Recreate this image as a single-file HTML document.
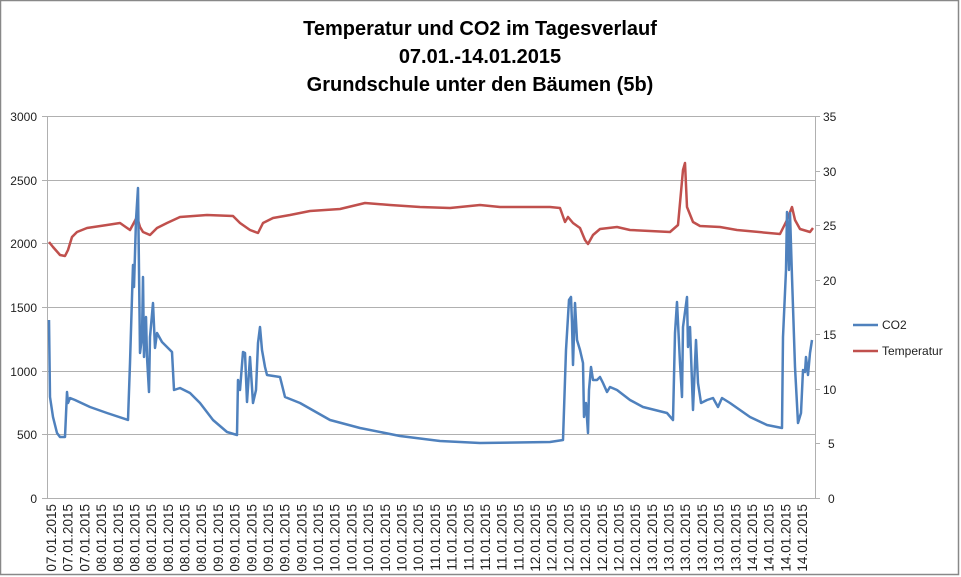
<!DOCTYPE html>
<html><head><meta charset="utf-8"><style>
body{margin:0;background:#fff}
svg{display:block;font-family:"Liberation Sans",Arial,sans-serif}
</style></head><body>
<svg width="961" height="577" viewBox="0 0 961 577">
<rect x="0.5" y="0.5" width="958" height="574" fill="#fff" stroke="#888" stroke-width="1.5"/>
<g font-weight="bold" font-size="20" text-anchor="middle" fill="#000">
<text x="480" y="35">Temperatur und CO2 im Tagesverlauf</text>
<text x="480" y="63">07.01.-14.01.2015</text>
<text x="480" y="91">Grundschule unter den Bäumen (5b)</text>
</g>
<g stroke="#b0b0b0" stroke-width="1">
<line x1="47" y1="116.5" x2="815" y2="116.5"/>
<line x1="47" y1="180.5" x2="815" y2="180.5"/>
<line x1="47" y1="243.5" x2="815" y2="243.5"/>
<line x1="47" y1="307.5" x2="815" y2="307.5"/>
<line x1="47" y1="371.5" x2="815" y2="371.5"/>
<line x1="47" y1="434.5" x2="815" y2="434.5"/>
<line x1="47" y1="498.5" x2="815" y2="498.5"/>
<line x1="47.5" y1="116" x2="47.5" y2="498"/>
<line x1="815.5" y1="116" x2="815.5" y2="498"/>
</g>
<g stroke="#b0b0b0">
<line x1="42" y1="116.5" x2="47" y2="116.5"/><line x1="42" y1="180.5" x2="47" y2="180.5"/><line x1="42" y1="243.5" x2="47" y2="243.5"/><line x1="42" y1="307.5" x2="47" y2="307.5"/><line x1="42" y1="371.5" x2="47" y2="371.5"/><line x1="42" y1="434.5" x2="47" y2="434.5"/><line x1="42" y1="498.5" x2="47" y2="498.5"/>
<line x1="815" y1="116.5" x2="820" y2="116.5"/><line x1="815" y1="171.5" x2="820" y2="171.5"/><line x1="815" y1="225.5" x2="820" y2="225.5"/><line x1="815" y1="280.5" x2="820" y2="280.5"/><line x1="815" y1="334.5" x2="820" y2="334.5"/><line x1="815" y1="389.5" x2="820" y2="389.5"/><line x1="815" y1="443.5" x2="820" y2="443.5"/><line x1="815" y1="498.5" x2="820" y2="498.5"/>
</g>
<g font-size="12" fill="#222" text-anchor="end">
<text x="37" y="121">3000</text><text x="37" y="185">2500</text><text x="37" y="248">2000</text><text x="37" y="312">1500</text><text x="37" y="376">1000</text><text x="37" y="439">500</text><text x="37" y="503">0</text>
</g>
<g font-size="12" fill="#222" text-anchor="start">
<text x="823" y="121">35</text><text x="823" y="176">30</text><text x="823" y="230">25</text><text x="823" y="285">20</text><text x="823" y="339">15</text><text x="823" y="394">10</text><text x="828" y="448">5</text><text x="828" y="503">0</text>
</g>
<g id="xl" font-size="13.5" fill="#222" text-anchor="end"></g>
<polyline fill="none" stroke="#c0504d" stroke-width="2.5" stroke-linejoin="round" points="49,242 53,247 60,255 65,256 68,250 72,237 77,232 87,228 107,225 120,223 130,230 137,217 140,227 143,232 150,235 157,228 167,223 180,217 207,215 233,216 240,223 250,230 258,233 263,223 273,218 290,215 300,213 310,211 340,209 365,203 390,205 420,207 450,208 480,205 500,207 550,207 560,208 565,222 568,217 573,223 580,228 585,240 588,244 593,235 600,229 617,227 630,230 670,232 678,225 683,170 685,163 687,207 693,222 700,226 720,227 737,230 780,234 787,220 792,207 795,220 800,229 810,232 813,228"/>
<polyline fill="none" stroke="#4f81bd" stroke-width="2.5" stroke-linejoin="round" points="49,320 50,397 53,417 57,433 60,437 65,437 67,392 68,403 70,398 75,400 90,407 107,413 128,420 130,363 132,297 133,265 134,287 136,220 138,188 139,270 140,353 142,337 143,277 144,357 146,317 147,357 149,392 150,337 153,303 155,348 157,333 162,342 172,352 174,390 180,388 190,393 200,403 213,420 227,432 237,435 238,380 240,390 243,352 245,353 247,402 250,357 253,403 256,390 258,343 260,327 262,350 265,367 267,375 280,377 285,397 300,403 330,420 360,428 400,436 440,441 480,443 550,442 563,440 566,350 569,300 571,297 572,323 573,365 575,303 577,340 580,350 583,363 584,417 586,403 588,433 589,390 591,367 593,380 597,380 600,377 603,383 607,392 610,387 617,390 630,400 643,407 667,413 673,420 675,333 677,302 680,363 682,397 683,327 687,297 688,347 690,327 693,410 696,340 698,383 701,403 707,400 713,398 718,407 722,398 730,403 750,417 767,425 782,428 783,337 786,270 787,212 789,270 790,213 792,277 795,367 798,423 801,413 803,370 805,372 806,357 808,375 810,353 812,340"/>
<line x1="853" y1="325" x2="878" y2="325" stroke="#4f81bd" stroke-width="2.5"/>
<line x1="853" y1="351" x2="878" y2="351" stroke="#c0504d" stroke-width="2.5"/>
<g font-size="12" fill="#222"><text x="882" y="329">CO2</text><text x="882" y="355">Temperatur</text></g>
</svg>
<script>
var d=["07","07","07","08","08","08","08","08","08","08","09","09","09","09","09","09","10","10","10","10","10","10","10","11","11","11","11","11","11","12","12","12","12","12","12","12","13","13","13","13","13","13","14","14","14","14"];
var g=document.getElementById("xl"),s="";
for(var i=0;i<46;i++){var x=51+i*16.69+5;s+='<text transform="translate('+x.toFixed(1)+',504) rotate(-90)">'+d[i]+'.01.2015</text>';}
g.innerHTML=s;
</script>
</body></html>
